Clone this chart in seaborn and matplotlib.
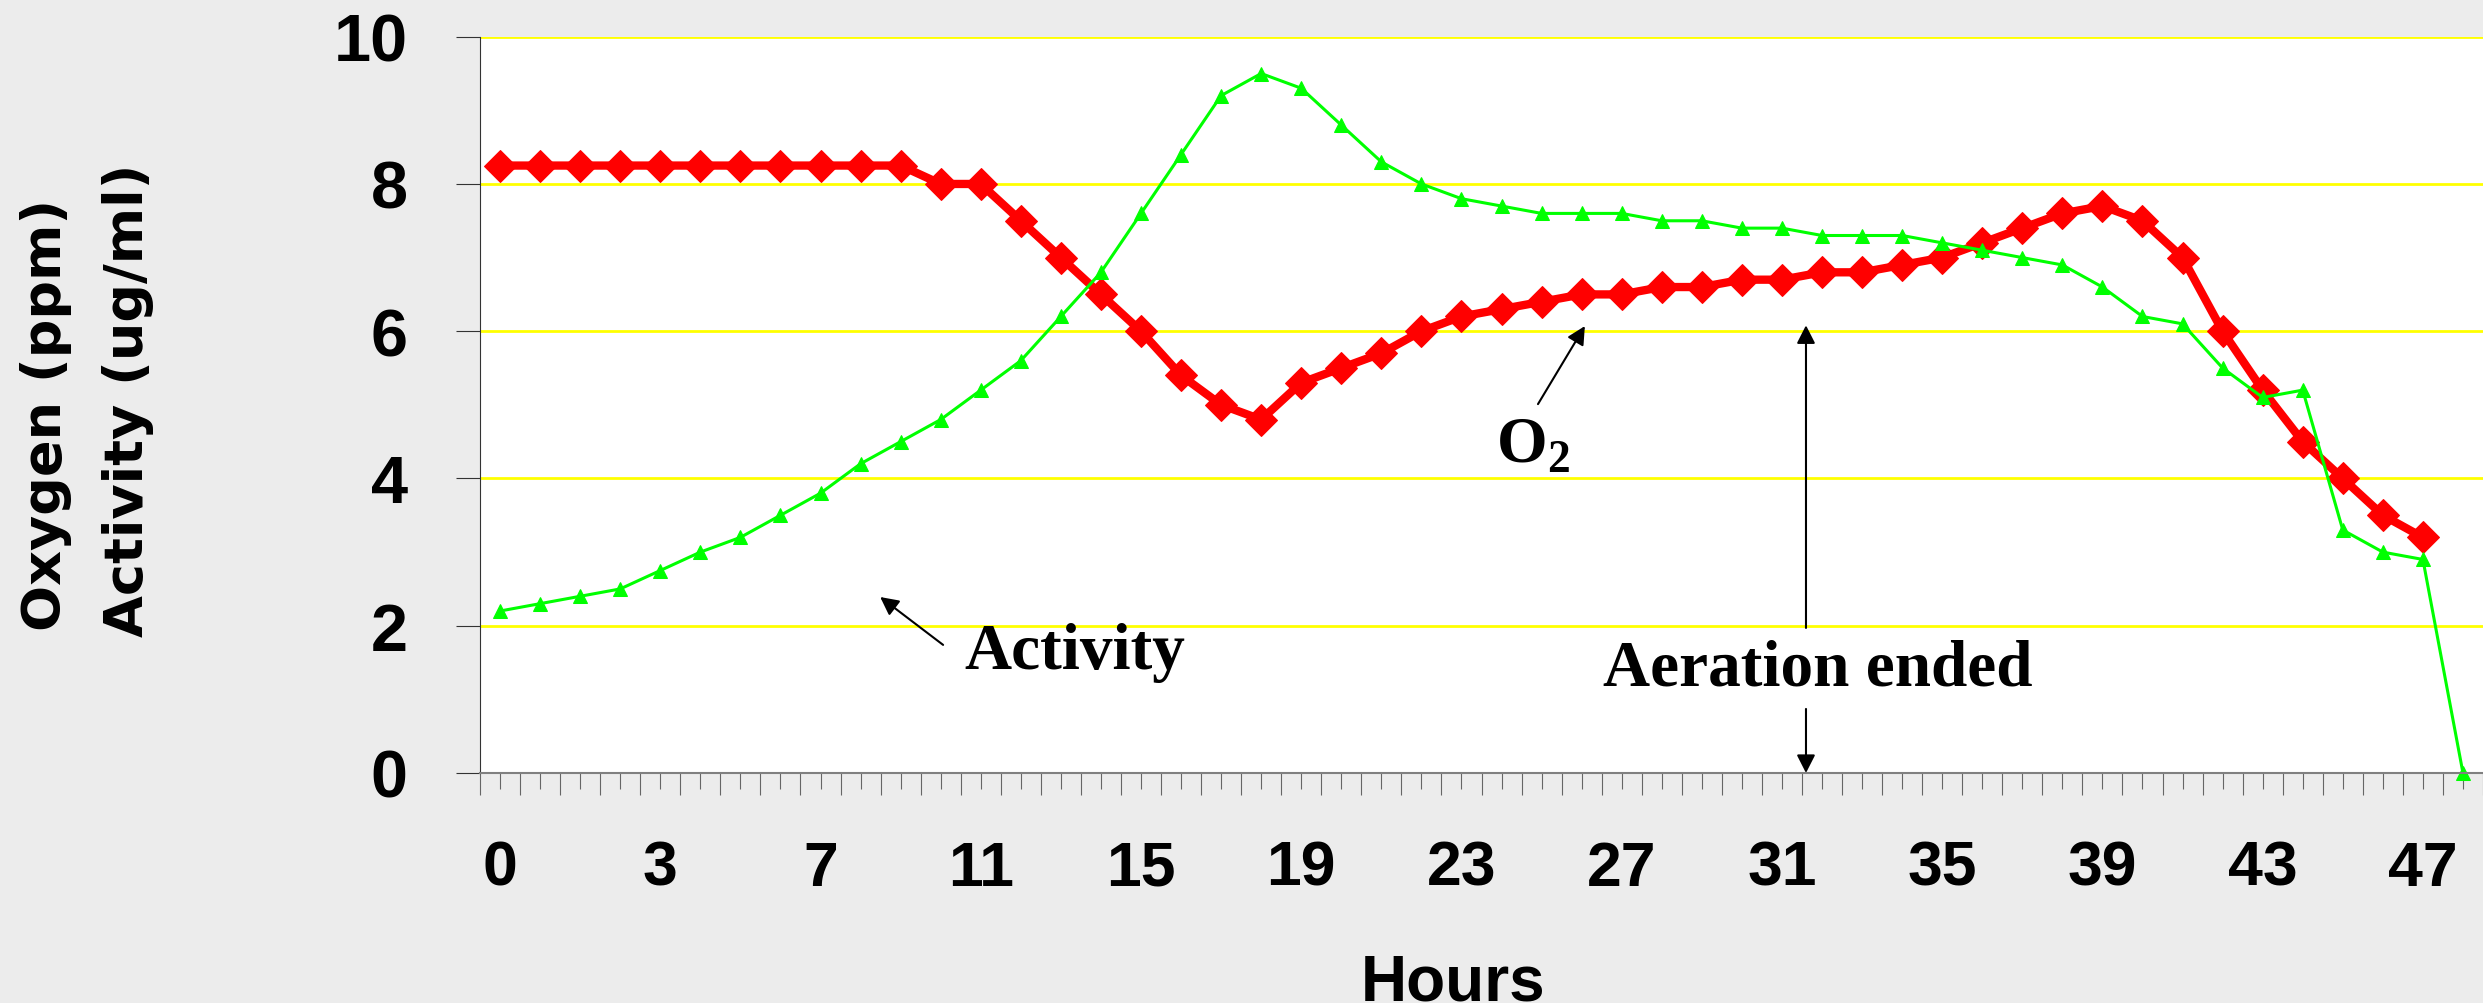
import numpy as np
import pandas as pd
import matplotlib
matplotlib.use("Agg")
import matplotlib.pyplot as plt
import seaborn as sns

# categories on the x axis (hours), one point per sample
hours = ["0", "0.5", "1", "2", "3", "4", "5", "6", "7", "8",
         "9", "10", "11", "12", "13", "14", "15", "16", "17", "18",
         "19", "20", "21", "22", "23", "24", "25", "26", "27", "28",
         "29", "30", "31", "32", "33", "34", "35", "36", "37", "38",
         "39", "40", "41", "42", "43", "44", "45", "46", "47", "48"]

# O2 (ppm) - no reading at the last sample
oxygen = [8.25, 8.25, 8.25, 8.25, 8.25, 8.25, 8.25, 8.25, 8.25, 8.25,
          8.25, 8.0, 8.0, 7.5, 7.0, 6.5, 6.0, 5.4, 5.0, 4.8,
          5.3, 5.5, 5.7, 6.0, 6.2, 6.3, 6.4, 6.5, 6.5, 6.6,
          6.6, 6.7, 6.7, 6.8, 6.8, 6.9, 7.0, 7.2, 7.4, 7.6,
          7.7, 7.5, 7.0, 6.0, 5.2, 4.5, 4.0, 3.5, 3.2, np.nan]

# activity (ug/ml)
activity = [2.2, 2.3, 2.4, 2.5, 2.75, 3.0, 3.2, 3.5, 3.8, 4.2,
            4.5, 4.8, 5.2, 5.6, 6.2, 6.8, 7.6, 8.4, 9.2, 9.5,
            9.3, 8.8, 8.3, 8.0, 7.8, 7.7, 7.6, 7.6, 7.6, 7.5,
            7.5, 7.4, 7.4, 7.3, 7.3, 7.3, 7.2, 7.1, 7.0, 6.9,
            6.6, 6.2, 6.1, 5.5, 5.1, 5.2, 3.3, 3.0, 2.9, 0.0]

df = pd.DataFrame({"pos": np.arange(len(hours)), "hours": hours,
                   "oxygen": oxygen, "activity": activity})

sns.set_theme(style="white", rc={"text.color": "black", "axes.labelcolor": "black",
                                 "xtick.color": "black", "ytick.color": "black"})
plt.rcParams["font.family"] = ["Liberation Sans", "DejaVu Sans"]
plt.rcParams["mathtext.fontset"] = "custom"
plt.rcParams["mathtext.rm"] = "Liberation Serif:bold"
plt.rcParams["mathtext.bf"] = "Liberation Serif:bold"

W, H = 2483, 1004
fig = plt.figure(figsize=(W / 100, H / 100), dpi=100, facecolor="#ececec")
ax = fig.add_axes([480 / W, 230 / H, 2003 / W, 736.3 / H])
ax.set_facecolor("white")

sns.lineplot(data=df, x="pos", y="oxygen", ax=ax, color="#ff0000", lw=6,
             marker="D", markersize=16, markeredgecolor="#ff0000", clip_on=False)
sns.lineplot(data=df, x="pos", y="activity", ax=ax, color="#00ff00", lw=2.2,
             marker="^", markersize=10, markeredgecolor="#00ff00", clip_on=False)

ax.set_xlim(-0.5, len(hours) - 0.5)
ax.set_ylim(0, 10)

# labelled ticks at every 4th category, long ticks between categories
ax.set_xticks(df["pos"], [h if i % 4 == 0 else "" for i, h in enumerate(hours)])
ax.set_xticks(np.arange(-0.5, len(hours), 1.0), minor=True)
ax.set_yticks(range(0, 11, 2))
ax.tick_params(axis="x", which="major", bottom=True, direction="out", length=11.5,
               width=0.8, color="#666666", labelcolor="black", pad=36, labelsize=45)
ax.tick_params(axis="x", which="minor", bottom=True, direction="out", length=16,
               width=0.8, color="#666666")
ax.tick_params(axis="y", left=True, direction="out", length=17, width=0.8,
               color="#333333", labelcolor="black", pad=35, labelsize=48)
for lbl in ax.get_xticklabels() + ax.get_yticklabels():
    lbl.set_fontweight("bold")

ax.yaxis.grid(True, color="#ffff00", lw=2)
ax.xaxis.grid(False)
ax.set_axisbelow(True)
ax.spines[["top", "right"]].set_visible(False)
ax.spines["left"].set_color("#333333")
ax.spines["left"].set_linewidth(0.8)
ax.spines["bottom"].set_color("#808080")
ax.spines["bottom"].set_linewidth(1.5)

ax.set_xlabel("Hours", fontsize=46, fontweight="bold", va="baseline", color="black")
ax.xaxis.set_label_coords(0.486, -0.308)
ax.set_ylabel("")

fig.text(46 / W, 1 - 415 / H, "Oxygen (ppm)", rotation=90, ha="center", va="center",
         family="DejaVu Sans", fontweight="bold", fontsize=39, color="black")
fig.text(128 / W, 1 - 400 / H, "Activity (ug/ml)", rotation=90, ha="center", va="center",
         family="DejaVu Sans", fontweight="bold", fontsize=39, color="black")

# annotations
arrow = dict(arrowstyle="-|>,head_length=0.55,head_width=0.28", mutation_scale=20,
             lw=1.5, color="black", shrinkA=0, shrinkB=0)
serif = dict(family="Liberation Serif", fontweight="bold", ha="left", va="baseline",
             color="black")

ax.annotate("", xy=(9.49, 2.39), xytext=(11.06, 1.74), arrowprops=arrow)
ax.text(11.58, 1.43, "Activity", fontsize=47, **serif)

ax.annotate("", xy=(27.08, 6.07), xytext=(25.91, 5.01), arrowprops=arrow)
ax.text(24.86, 4.24, r"O$_{\mathbf{2}}$", fontsize=47, **serif)

ax.annotate("", xy=(32.6, 6.08), xytext=(32.6, 1.97), arrowprops=arrow)
ax.annotate("", xy=(32.6, 0.0), xytext=(32.6, 0.87), arrowprops=arrow)
ax.text(27.53, 1.2, "Aeration ended", fontsize=47, **serif)

fig.savefig("out.png", dpi=100, facecolor=fig.get_facecolor())
